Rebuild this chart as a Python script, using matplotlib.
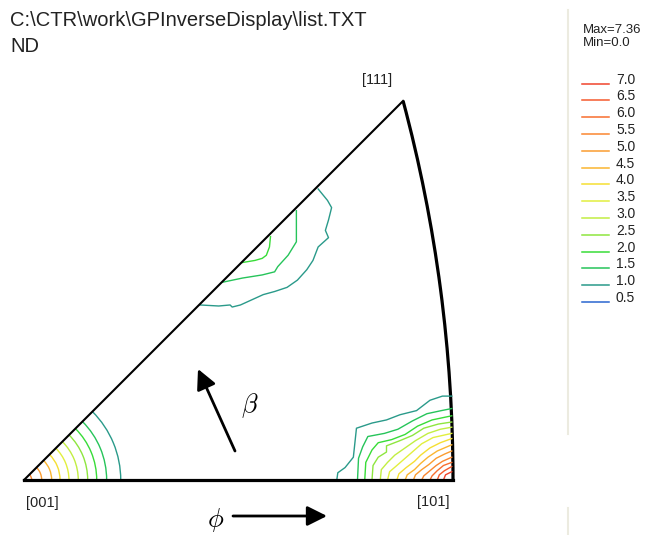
import numpy as np
import matplotlib.pyplot as plt
from matplotlib.patches import Arc, FancyArrowPatch
from matplotlib.lines import Line2D

plt.rcParams['font.family'] = ['Liberation Sans', 'DejaVu Sans']
plt.rcParams['mathtext.fontset'] = 'cm'

W, H = 651, 535          # canvas size in pixels
SCALE = 1035.7           # pixels per unit of stereographic projection
OX, OY = 24, 480         # pixel position of [001]


def fpos(x, y):
    # pixel position -> figure fraction
    return x / W, 1 - y / H


title = r'C:\CTR\work\GPInverseDisplay\list.TXT'
direction = 'ND'
d_max, d_min = 7.36, 0.0

levels = [7.0, 6.5, 6.0, 5.5, 5.0, 4.5, 4.0, 3.5, 3.0, 2.5, 2.0, 1.5, 1.0, 0.5]
level_colors = ['#f0442c', '#f55a2d', '#f86e2e', '#fa8630', '#fb9c30', '#fbb530',
                '#f5df33', '#e2ef3e', '#c2ee42', '#8ee63f', '#38dc38', '#26c45a',
                '#2a9a8a', '#2a66d0']
color_of = dict(zip(levels, level_colors))

# contours around [001]: circles about the pole, radius in projection units
radii_001 = {1.0: 0.0934, 1.5: 0.0798, 2.0: 0.0702, 2.5: 0.0615, 3.0: 0.0524,
             3.5: 0.0434, 4.0: 0.0348, 4.5: 0.0267, 5.0: 0.0171, 5.5: 0.0074}

# contours on the [001]-[111] edge
edge_contours = {
    1.0: [(0.170, 0.169), (0.188, 0.168), (0.199, 0.169), (0.201, 0.167), (0.209, 0.169),
          (0.220, 0.174), (0.231, 0.179), (0.242, 0.182), (0.254, 0.186), (0.264, 0.193),
          (0.273, 0.203), (0.279, 0.212), (0.284, 0.225), (0.294, 0.234), (0.291, 0.241),
          (0.294, 0.251), (0.297, 0.263), (0.293, 0.270), (0.284, 0.281)],
    1.5: [(0.192, 0.191), (0.211, 0.195), (0.230, 0.198), (0.242, 0.201), (0.245, 0.206),
          (0.255, 0.217), (0.263, 0.230), (0.263, 0.260)],
    2.0: [(0.211, 0.210), (0.223, 0.212), (0.230, 0.214), (0.234, 0.217), (0.237, 0.225),
          (0.238, 0.235)],
}

# contours around [101]
corner_101 = {
    1.0: [(0.302, 0.0), (0.303, 0.007), (0.310, 0.012), (0.318, 0.022), (0.321, 0.050),
          (0.336, 0.055), (0.350, 0.058), (0.363, 0.063), (0.379, 0.067), (0.392, 0.077),
          (0.404, 0.081), (0.413, 0.081)],
    1.5: [(0.322, 0.0), (0.323, 0.021), (0.327, 0.032), (0.332, 0.042), (0.348, 0.045),
          (0.361, 0.049), (0.375, 0.057), (0.389, 0.064), (0.403, 0.067), (0.413, 0.069)],
    2.0: [(0.329, 0.0), (0.330, 0.017), (0.336, 0.029), (0.342, 0.036), (0.355, 0.039),
          (0.368, 0.044), (0.380, 0.052), (0.394, 0.058), (0.413, 0.062)],
    2.5: [(0.336, 0.0), (0.337, 0.014), (0.342, 0.022), (0.350, 0.027), (0.350, 0.033),
          (0.363, 0.038), (0.375, 0.043), (0.386, 0.050), (0.400, 0.054), (0.413, 0.056)],
    3.0: [(0.344, 0.0), (0.345, 0.010), (0.351, 0.017), (0.358, 0.024), (0.368, 0.031),
          (0.378, 0.038), (0.390, 0.045), (0.402, 0.049), (0.413, 0.051)],
    3.5: [(0.351, 0.0), (0.353, 0.008), (0.360, 0.014), (0.368, 0.021), (0.376, 0.028),
          (0.384, 0.035), (0.395, 0.041), (0.413, 0.045)],
    4.0: [(0.360, 0.0), (0.362, 0.006), (0.369, 0.012), (0.377, 0.018), (0.383, 0.024),
          (0.392, 0.031), (0.402, 0.036), (0.413, 0.040)],
    4.5: [(0.368, 0.0), (0.370, 0.005), (0.377, 0.010), (0.383, 0.016), (0.390, 0.022),
          (0.399, 0.028), (0.413, 0.034)],
    5.0: [(0.376, 0.0), (0.378, 0.005), (0.384, 0.010), (0.391, 0.015), (0.398, 0.021),
          (0.406, 0.025), (0.413, 0.028)],
    5.5: [(0.384, 0.0), (0.386, 0.004), (0.392, 0.009), (0.398, 0.014), (0.404, 0.018),
          (0.413, 0.022)],
    6.0: [(0.392, 0.0), (0.394, 0.004), (0.399, 0.009), (0.405, 0.014), (0.413, 0.017)],
    6.5: [(0.399, 0.0), (0.401, 0.005), (0.406, 0.009), (0.413, 0.013)],
    7.0: [(0.405, 0.0), (0.407, 0.005), (0.413, 0.008)],
}

fig = plt.figure(figsize=(W / 100, H / 100), dpi=100)
ax = fig.add_axes([0, 0, 1, 1])
ax.set_xlim(-OX / SCALE, (W - OX) / SCALE)
ax.set_ylim((OY - H) / SCALE, OY / SCALE)
ax.axis('off')

# contour lines
for lev, r in radii_001.items():
    ax.add_patch(Arc((0, 0), 2 * r, 2 * r, theta1=0, theta2=45,
                     color=color_of[lev], lw=1.0))
for group in (edge_contours, corner_101):
    for lev, pts in group.items():
        xs, ys = zip(*pts)
        ax.plot(xs, ys, color=color_of[lev], lw=1.0)

# standard triangle
p111 = (np.sqrt(3) - 1) / 2
p101 = np.sqrt(2) - 1
ax.plot([0, p111], [0, p111], color='k', lw=1.5)
ax.plot([0, p101], [0, 0], color='k', lw=2.3, solid_capstyle='projecting')
ax.add_patch(Arc((-1, 0), 2 * np.sqrt(2), 2 * np.sqrt(2), theta1=0, theta2=15,
                 color='k', lw=2.3))

pole_style = dict(textcoords='offset pixels', ha='center', va='center',
                  fontsize=10.5, color='#222222')
ax.annotate('[001]', (0, 0), xytext=(18, -23), **pole_style)
ax.annotate('[101]', (p101, 0), xytext=(-20, -22), **pole_style)
ax.annotate('[111]', (p111, p111), xytext=(-26, 21), **pole_style)

# header
fig.text(*fpos(10, 20), title, fontsize=14.5, va='center', color='#222222')
fig.text(*fpos(10, 47), direction, fontsize=14.5, va='center', color='#222222')

# rotation arrows
arrow_kw = dict(transform=fig.transFigure, arrowstyle='-|>,head_length=0.6,head_width=0.3',
                mutation_scale=20, lw=2.0, color='k', shrinkA=0, shrinkB=0)
fig.add_artist(FancyArrowPatch(fpos(235, 451), fpos(198, 369), **arrow_kw))
fig.add_artist(FancyArrowPatch(fpos(233, 516), fpos(327, 516), **arrow_kw))
fig.text(*fpos(250, 406), r'$\beta$', fontsize=19, ha='center', va='center')
fig.text(*fpos(216, 520), r'$\phi$', fontsize=19, ha='center', va='center')

# legend panel
sep = '#ecebe0'
fig.add_artist(Line2D([568 / W] * 2, [fpos(0, 10)[1], fpos(0, 434)[1]], color=sep, lw=1.5))
fig.add_artist(Line2D([568 / W] * 2, [fpos(0, 508)[1], fpos(0, 535)[1]], color=sep, lw=1.5))
fig.text(*fpos(583, 30), f'Max={d_max}', fontsize=9.5, va='center', color='#222222')
fig.text(*fpos(583, 43), f'Min={d_min}', fontsize=9.5, va='center', color='#222222')
for i, (lev, c) in enumerate(zip(levels, level_colors)):
    y = 83.5 + 16.8 * i
    fig.add_artist(Line2D([582 / W, 609 / W], [fpos(0, y)[1]] * 2, color=c, lw=1.1))
    fig.text(*fpos(616, y - 4), f'{lev:.1f}', fontsize=10, va='center', color='#222222')

fig.savefig('out.png', dpi=100)
